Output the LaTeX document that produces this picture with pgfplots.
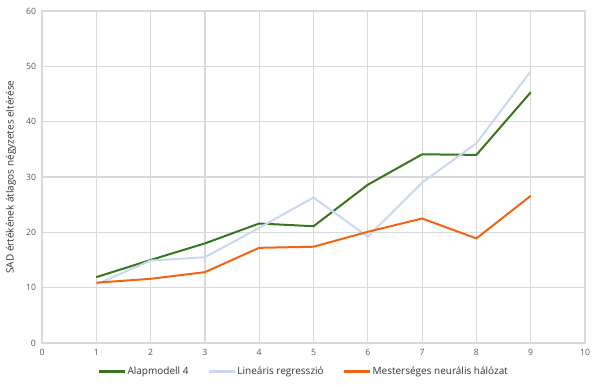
\documentclass[border=0pt]{standalone}
\usepackage{fontspec}
\setmainfont{Open Sans}
\usepackage{pgfplots}
\pgfplotsset{compat=1.18}
\definecolor{cgreen}{RGB}{56,118,29}
\definecolor{cblue}{RGB}{201,216,240}
\definecolor{corange}{RGB}{240,100,20}
\definecolor{cgrid}{RGB}{217,217,217}
\definecolor{ctick}{RGB}{89,89,89}
\begin{document}
\begin{tikzpicture}
\useasboundingbox (-31.5pt,-32.25pt) rectangle (418.5pt,257.25pt);
\begin{axis}[
  scale only axis, width=407.25pt, height=249pt,
  xmin=0, xmax=10, ymin=0, ymax=60,
  xtick={0,1,...,10}, ytick={0,10,...,60},
  grid=major, major grid style={cgrid, line width=0.9pt},
  axis line style={cgrid, line width=0.9pt},
  tick style={draw=none},
  ticklabel style={font=\fontsize{6.5}{7}\selectfont, text=ctick},
  /pgf/number format/assume math mode=true,
  xticklabel shift=1pt, yticklabel shift=1pt,
  ylabel={SAD értékének átlagos négyzetes eltérése},
  ylabel style={font=\fontsize{7.5}{9}\selectfont, text=black!80, at={(axis description cs:-0.057,0.5)}, anchor=center},
  legend style={at={(0.4816,-21.5pt)}, anchor=center, draw=none, legend columns=-1,
    font=\fontsize{7.5}{9}\selectfont, text=black!80,
    nodes={inner xsep=1.2pt},
    /tikz/every even column/.append style={column sep=13pt}},
  legend image code/.code={\draw[#1, line width=1.8pt] (0pt,0pt) -- (19.5pt,0pt);},
  every axis plot/.append style={line width=1.5pt, mark=none},
]
\addplot[cgreen] coordinates {(1,11.9) (2,15.0) (3,18.0) (4,21.6) (5,21.1) (6,28.6) (7,34.1) (8,34.0) (9,45.3)};
\addlegendentry{Alapmodell 4}
\addplot[cblue] coordinates {(1,10.6) (2,14.9) (3,15.5) (4,20.8) (5,26.3) (6,19.2) (7,29.0) (8,36.1) (9,49.1)};
\addlegendentry{Lineáris regresszió}
\addplot[corange] coordinates {(1,10.9) (2,11.6) (3,12.8) (4,17.2) (5,17.4) (6,20.1) (7,22.5) (8,18.9) (9,26.6)};
\addlegendentry{Mesterséges neurális hálózat}
\end{axis}
\end{tikzpicture}
\end{document}
